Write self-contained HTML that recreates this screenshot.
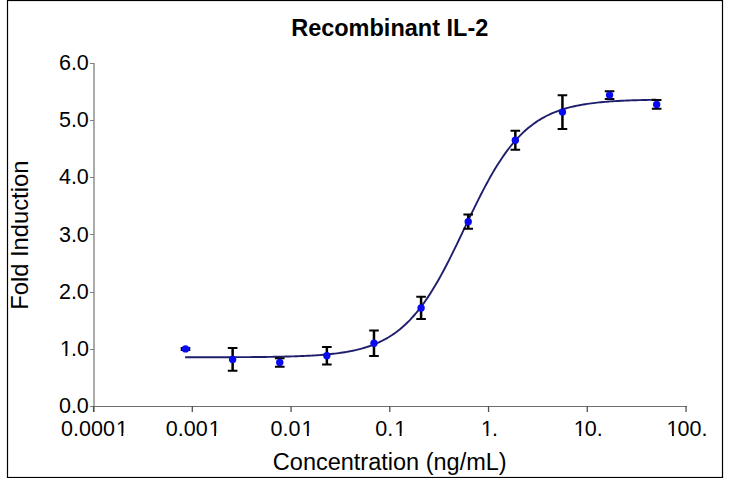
<!DOCTYPE html>
<html><head><meta charset="utf-8"><title>Recombinant IL-2</title>
<style>
html,body{margin:0;padding:0;background:#fff;width:730px;height:478px;overflow:hidden}
svg{display:block}
text{font-family:"Liberation Sans",Arial,sans-serif;fill:#000}
.tl{font-size:21.5px}
.tt{font-size:23.5px;font-weight:bold}
.at{font-size:23.5px}
</style></head><body>
<svg width="730" height="478" viewBox="0 0 730 478">
<rect x="7.5" y="0.5" width="715" height="477" fill="none" stroke="#000" stroke-width="1.2"/>
<rect x="93" y="63" width="2" height="349" fill="#ababab"/>
<rect x="93" y="406" width="594" height="1" fill="#6e6e6e"/>
<rect x="90" y="406" width="4" height="1" fill="#808080"/>
<g transform="translate(88.80,413.10)"><text class="tl" x="-29.89">0.0</text></g>
<rect x="90" y="349" width="4" height="1" fill="#808080"/>
<g transform="translate(88.80,355.93)"><text class="tl" x="-29.89"><tspan dx="1.07">1</tspan><tspan dx="-1.07">.</tspan>0</text><rect x="-28.18" y="-2.38" width="4.78" height="3.38" fill="#fff"/><rect x="-21.51" y="-2.38" width="4.14" height="3.38" fill="#fff"/></g>
<rect x="90" y="292" width="4" height="1" fill="#808080"/>
<g transform="translate(88.80,298.77)"><text class="tl" x="-29.89">2.0</text></g>
<rect x="90" y="234" width="4" height="1" fill="#808080"/>
<g transform="translate(88.80,241.60)"><text class="tl" x="-29.89">3.0</text></g>
<rect x="90" y="177" width="4" height="1" fill="#808080"/>
<g transform="translate(88.80,184.43)"><text class="tl" x="-29.89">4.0</text></g>
<rect x="90" y="120" width="4" height="1" fill="#808080"/>
<g transform="translate(88.80,127.27)"><text class="tl" x="-29.89">5.0</text></g>
<rect x="90" y="63" width="4" height="1" fill="#808080"/>
<g transform="translate(88.80,70.10)"><text class="tl" x="-29.89">6.0</text></g>
<rect x="92.90" y="406" width="1.3" height="6" fill="#505050"/>
<g transform="translate(93.95,435.50)"><text class="tl" x="-32.88">0.000<tspan dx="1.07">1</tspan></text><rect x="22.63" y="-2.38" width="4.78" height="3.38" fill="#fff"/><rect x="29.30" y="-2.38" width="4.14" height="3.38" fill="#fff"/></g>
<rect x="191.65" y="406" width="1.3" height="6" fill="#505050"/>
<g transform="translate(192.70,435.50)"><text class="tl" x="-26.90">0.00<tspan dx="1.07">1</tspan></text><rect x="16.65" y="-2.38" width="4.78" height="3.38" fill="#fff"/><rect x="23.33" y="-2.38" width="4.14" height="3.38" fill="#fff"/></g>
<rect x="290.40" y="406" width="1.3" height="6" fill="#505050"/>
<g transform="translate(291.45,435.50)"><text class="tl" x="-20.92">0.0<tspan dx="1.07">1</tspan></text><rect x="10.67" y="-2.38" width="4.78" height="3.38" fill="#fff"/><rect x="17.35" y="-2.38" width="4.14" height="3.38" fill="#fff"/></g>
<rect x="389.15" y="406" width="1.3" height="6" fill="#505050"/>
<g transform="translate(390.20,435.50)"><text class="tl" x="-14.94">0.<tspan dx="1.07">1</tspan></text><rect x="4.69" y="-2.38" width="4.78" height="3.38" fill="#fff"/><rect x="11.37" y="-2.38" width="4.14" height="3.38" fill="#fff"/></g>
<rect x="487.90" y="406" width="1.3" height="6" fill="#505050"/>
<g transform="translate(488.95,435.50)"><text class="tl" x="-8.97"><tspan dx="1.07">1</tspan><tspan dx="-1.07">.</tspan></text><rect x="-7.26" y="-2.38" width="4.78" height="3.38" fill="#fff"/><rect x="-0.58" y="-2.38" width="4.14" height="3.38" fill="#fff"/></g>
<rect x="586.65" y="406" width="1.3" height="6" fill="#505050"/>
<g transform="translate(587.70,435.50)"><text class="tl" x="-14.94"><tspan dx="1.07">1</tspan><tspan dx="-1.07">0</tspan>.</text><rect x="-13.24" y="-2.38" width="4.78" height="3.38" fill="#fff"/><rect x="-6.56" y="-2.38" width="4.14" height="3.38" fill="#fff"/></g>
<rect x="685.40" y="406" width="1.3" height="6" fill="#505050"/>
<g transform="translate(686.45,435.50)"><text class="tl" x="-20.92"><tspan dx="1.07">1</tspan><tspan dx="-1.07">0</tspan>0.</text><rect x="-19.22" y="-2.38" width="4.78" height="3.38" fill="#fff"/><rect x="-12.54" y="-2.38" width="4.14" height="3.38" fill="#fff"/></g>
<path d="M185.12,357.30 L187.09,357.30 L189.06,357.30 L191.03,357.29 L193.00,357.29 L194.97,357.29 L196.94,357.29 L198.92,357.28 L200.89,357.28 L202.86,357.28 L204.83,357.27 L206.80,357.27 L208.77,357.27 L210.74,357.26 L212.72,357.26 L214.69,357.25 L216.66,357.25 L218.63,357.24 L220.60,357.24 L222.57,357.23 L224.54,357.22 L226.51,357.22 L228.49,357.21 L230.46,357.20 L232.43,357.19 L234.40,357.18 L236.37,357.17 L238.34,357.16 L240.31,357.15 L242.29,357.14 L244.26,357.13 L246.23,357.12 L248.20,357.10 L250.17,357.09 L252.14,357.07 L254.11,357.06 L256.09,357.04 L258.06,357.02 L260.03,357.00 L262.00,356.98 L263.97,356.95 L265.94,356.93 L267.91,356.90 L269.88,356.87 L271.86,356.84 L273.83,356.81 L275.80,356.78 L277.77,356.74 L279.74,356.70 L281.71,356.66 L283.68,356.61 L285.66,356.57 L287.63,356.52 L289.60,356.46 L291.57,356.41 L293.54,356.35 L295.51,356.28 L297.48,356.21 L299.46,356.14 L301.43,356.06 L303.40,355.98 L305.37,355.89 L307.34,355.79 L309.31,355.69 L311.28,355.58 L313.26,355.47 L315.23,355.34 L317.20,355.21 L319.17,355.08 L321.14,354.93 L323.11,354.77 L325.08,354.60 L327.05,354.42 L329.03,354.23 L331.00,354.03 L332.97,353.81 L334.94,353.58 L336.91,353.34 L338.88,353.08 L340.85,352.80 L342.83,352.51 L344.80,352.20 L346.77,351.86 L348.74,351.51 L350.71,351.13 L352.68,350.73 L354.65,350.31 L356.63,349.85 L358.60,349.37 L360.57,348.86 L362.54,348.32 L364.51,347.75 L366.48,347.14 L368.45,346.49 L370.42,345.80 L372.40,345.07 L374.37,344.30 L376.34,343.48 L378.31,342.62 L380.28,341.70 L382.25,340.73 L384.22,339.71 L386.20,338.62 L388.17,337.48 L390.14,336.27 L392.11,335.00 L394.08,333.65 L396.05,332.23 L398.02,330.74 L400.00,329.17 L401.97,327.52 L403.94,325.78 L405.91,323.96 L407.88,322.05 L409.85,320.05 L411.82,317.95 L413.79,315.76 L415.77,313.48 L417.74,311.09 L419.71,308.60 L421.68,306.01 L423.65,303.32 L425.62,300.53 L427.59,297.63 L429.57,294.64 L431.54,291.54 L433.51,288.34 L435.48,285.05 L437.45,281.66 L439.42,278.18 L441.39,274.62 L443.37,270.97 L445.34,267.24 L447.31,263.44 L449.28,259.57 L451.25,255.64 L453.22,251.66 L455.19,247.63 L457.16,243.57 L459.14,239.47 L461.11,235.34 L463.08,231.21 L465.05,227.07 L467.02,222.93 L468.99,218.80 L470.96,214.69 L472.94,210.61 L474.91,206.56 L476.88,202.56 L478.85,198.61 L480.82,194.72 L482.79,190.89 L484.76,187.13 L486.74,183.45 L488.71,179.84 L490.68,176.33 L492.65,172.90 L494.62,169.57 L496.59,166.33 L498.56,163.20 L500.54,160.16 L502.51,157.22 L504.48,154.39 L506.45,151.65 L508.42,149.02 L510.39,146.49 L512.36,144.07 L514.33,141.74 L516.31,139.51 L518.28,137.37 L520.25,135.33 L522.22,133.39 L524.19,131.53 L526.16,129.76 L528.13,128.07 L530.11,126.47 L532.08,124.94 L534.05,123.50 L536.02,122.12 L537.99,120.82 L539.96,119.58 L541.93,118.41 L543.91,117.30 L545.88,116.25 L547.85,115.26 L549.82,114.32 L551.79,113.44 L553.76,112.60 L555.73,111.81 L557.70,111.07 L559.68,110.36 L561.65,109.70 L563.62,109.07 L565.59,108.48 L567.56,107.93 L569.53,107.41 L571.50,106.91 L573.48,106.45 L575.45,106.01 L577.42,105.60 L579.39,105.22 L581.36,104.85 L583.33,104.51 L585.30,104.19 L587.28,103.89 L589.25,103.60 L591.22,103.34 L593.19,103.09 L595.16,102.85 L597.13,102.63 L599.10,102.42 L601.07,102.23 L603.05,102.04 L605.02,101.87 L606.99,101.71 L608.96,101.56 L610.93,101.41 L612.90,101.28 L614.87,101.16 L616.85,101.04 L618.82,100.93 L620.79,100.82 L622.76,100.72 L624.73,100.63 L626.70,100.55 L628.67,100.47 L630.65,100.39 L632.62,100.32 L634.59,100.25 L636.56,100.19 L638.53,100.13 L640.50,100.08 L642.47,100.03 L644.45,99.98 L646.42,99.93 L648.39,99.89 L650.36,99.85 L652.33,99.81 L654.30,99.78 L656.27,99.74" fill="none" stroke="#1e1e6c" stroke-width="1.9"/>
<path d="M656.67,100.10 V108.70" stroke="#000" stroke-width="2.5" fill="none"/>
<path d="M651.87,100.10 H661.47 M651.87,108.70 H661.47" stroke="#000" stroke-width="2" fill="none"/>
<circle cx="656.67" cy="104.40" r="3.7" fill="#0a0aee"/>
<path d="M609.56,91.20 V99.00" stroke="#000" stroke-width="2.5" fill="none"/>
<path d="M604.76,91.20 H614.36 M604.76,99.00 H614.36" stroke="#000" stroke-width="2" fill="none"/>
<circle cx="609.56" cy="95.10" r="3.7" fill="#0a0aee"/>
<path d="M562.44,95.30 V128.90" stroke="#000" stroke-width="2.5" fill="none"/>
<path d="M557.64,95.30 H567.24 M557.64,128.90 H567.24" stroke="#000" stroke-width="2" fill="none"/>
<circle cx="562.44" cy="112.10" r="3.7" fill="#0a0aee"/>
<path d="M515.33,130.70 V149.70" stroke="#000" stroke-width="2.5" fill="none"/>
<path d="M510.53,130.70 H520.13 M510.53,149.70 H520.13" stroke="#000" stroke-width="2" fill="none"/>
<circle cx="515.33" cy="140.20" r="3.7" fill="#0a0aee"/>
<path d="M468.21,214.60 V228.70" stroke="#000" stroke-width="2.5" fill="none"/>
<path d="M463.41,214.60 H473.01 M463.41,228.70 H473.01" stroke="#000" stroke-width="2" fill="none"/>
<circle cx="468.21" cy="221.65" r="3.7" fill="#0a0aee"/>
<path d="M421.09,296.80 V319.10" stroke="#000" stroke-width="2.5" fill="none"/>
<path d="M416.29,296.80 H425.89 M416.29,319.10 H425.89" stroke="#000" stroke-width="2" fill="none"/>
<circle cx="421.09" cy="307.95" r="3.7" fill="#0a0aee"/>
<path d="M373.98,330.50 V356.10" stroke="#000" stroke-width="2.5" fill="none"/>
<path d="M369.18,330.50 H378.78 M369.18,356.10 H378.78" stroke="#000" stroke-width="2" fill="none"/>
<circle cx="373.98" cy="343.30" r="3.7" fill="#0a0aee"/>
<path d="M326.86,347.10 V364.50" stroke="#000" stroke-width="2.5" fill="none"/>
<path d="M322.06,347.10 H331.66 M322.06,364.50 H331.66" stroke="#000" stroke-width="2" fill="none"/>
<circle cx="326.86" cy="355.80" r="3.7" fill="#0a0aee"/>
<path d="M279.75,358.20 V366.80" stroke="#000" stroke-width="2.5" fill="none"/>
<path d="M274.95,358.20 H284.55 M274.95,366.80 H284.55" stroke="#000" stroke-width="2" fill="none"/>
<circle cx="279.75" cy="362.50" r="3.7" fill="#0a0aee"/>
<path d="M232.63,347.90 V370.80" stroke="#000" stroke-width="2.5" fill="none"/>
<path d="M227.83,347.90 H237.43 M227.83,370.80 H237.43" stroke="#000" stroke-width="2" fill="none"/>
<circle cx="232.63" cy="359.40" r="3.7" fill="#0a0aee"/>
<path d="M185.52,347.90 V349.90" stroke="#000" stroke-width="2.5" fill="none"/>
<path d="M180.72,347.90 H190.32 M180.72,349.90 H190.32" stroke="#000" stroke-width="2" fill="none"/>
<circle cx="185.52" cy="348.90" r="3.7" fill="#0a0aee"/>
<text x="389.75" y="36.3" class="tt" text-anchor="middle">Recombinant IL-2</text>
<text x="389.75" y="469.6" class="at" text-anchor="middle">Concentration (ng/mL)</text>
<text transform="translate(27.5,235.2) rotate(-90)" class="at" style="font-size:23.75px" text-anchor="middle">Fold Induction</text>
</svg>
</body></html>
